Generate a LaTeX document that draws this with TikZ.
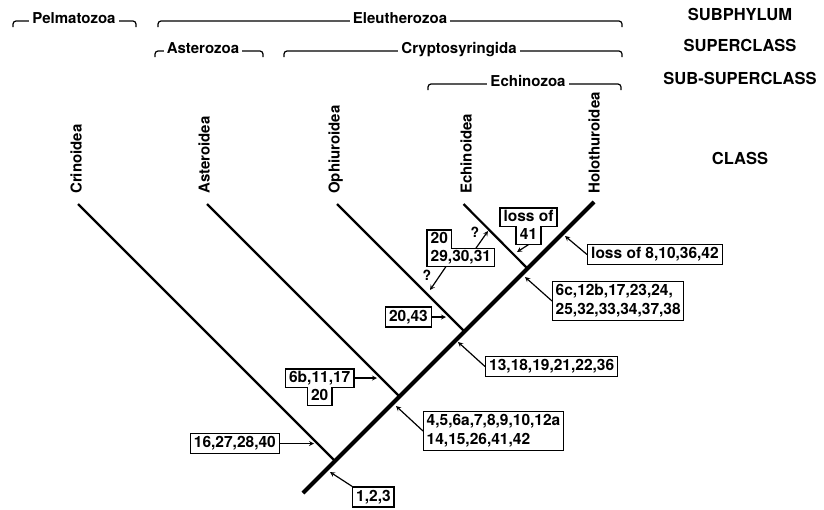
\documentclass[tikz,border=0pt]{standalone}
\usepackage{fontspec}
\setmainfont{TeX Gyre Heros}
\usetikzlibrary{positioning}

\tikzset{
  rank/.style={font=\bfseries\fontsize{16.5}{19}\selectfont, inner sep=0pt},
  taxon/.style={font=\bfseries\fontsize{15}{18}\selectfont, fill=white, inner xsep=3pt, inner ysep=2pt},
  bracket/.style={line width=1.2pt, rounded corners=3pt},
  cls/.style={font=\bfseries\fontsize{15}{18}\selectfont, rotate=90, anchor=base west, inner sep=0pt},
  trunk/.style={line width=4pt},
  branch/.style={line width=2.2pt},
  chr/.style={draw, line width=1.4pt, font=\bfseries\fontsize{15.5}{19}\selectfont, inner xsep=3.5pt, inner ysep=3pt, text height=11pt, text depth=3pt},
  chrtwo/.style={draw, line width=1.4pt, font=\bfseries\fontsize{15.5}{19}\selectfont, align=left, inner xsep=3pt, inner ysep=3pt},
  part/.style={font=\bfseries\fontsize{15.5}{19}\selectfont, inner xsep=3.5pt, inner ysep=2pt, text height=11pt, text depth=3pt},
  outline/.style={line width=1.4pt},
  query/.style={font=\bfseries\fontsize{14}{16}\selectfont, inner sep=0pt},
  ptr/.style={->, >=stealth, line width=1.2pt}
}

\begin{document}
\begin{tikzpicture}[x=1pt, y=-1pt]
\useasboundingbox (0,0) rectangle (824,509);

% rank column
\node[rank, anchor=base] (subphylum) at (740,20) {SUBPHYLUM};
\node[rank, anchor=base] (superclass) at (740,51) {SUPERCLASS};
\node[rank, anchor=base] (subsuperclass) at (740,84) {SUB-SUPERCLASS};
\node[rank, anchor=base] (class) at (740,164) {CLASS};

% brackets
\draw[bracket] (13,27) -- (13,21) -- (136,21) -- (136,27);
\node[taxon, anchor=base] (pelmatozoa) at (74,23) {Pelmatozoa};
\draw[bracket] (158,27) -- (158,21) -- (622,21) -- (622,27);
\node[taxon, anchor=base] (eleutherozoa) at (400,23) {Eleutherozoa};
\draw[bracket] (155,57) -- (155,51) -- (263,51) -- (263,57);
\node[taxon, anchor=base] (asterozoa) at (203,53) {Asterozoa};
\draw[bracket] (284,57) -- (284,51) -- (622,51) -- (622,57);
\node[taxon, anchor=base] (cryptosyringida) at (459,53) {Cryptosyringida};
\draw[bracket] (428,90) -- (428,84) -- (621,84) -- (621,90);
\node[taxon, anchor=base] (echinozoa) at (528,86) {Echinozoa};

% tree
\coordinate (root) at (303,493);
\coordinate (jCri) at (335,461);
\coordinate (jAst) at (399.5,396.5);
\coordinate (jOph) at (464.5,331.5);
\coordinate (jEch) at (527.5,268.5);
\coordinate (tHol) at (594,202);
\coordinate (tCri) at (78,204);
\coordinate (tAst) at (207,204);
\coordinate (tOph) at (337,204);
\coordinate (tEch) at (463.5,204);

\draw[trunk] (root) -- (tHol);
\draw[branch] (tCri) -- (jCri);
\draw[branch] (tAst) -- (jAst);
\draw[branch] (tOph) -- (jOph);
\draw[branch] (tEch) -- (jEch);

\node[cls] (crinoidea) at (81.5,194) {Crinoidea};
\node[cls] (asteroidea) at (209.5,194) {Asteroidea};
\node[cls] (ophiuroidea) at (339.5,194) {Ophiuroidea};
\node[cls] (echinoidea) at (471.5,194) {Echinoidea};
\node[cls] (holothuroidea) at (599.5,194) {Holothuroidea};

% character boxes
\node[chr, anchor=west] (c123) at (352,497) {1,2,3};
\node[chr, anchor=east] (c16) at (280,443.5) {16,27,28,40};
\node[part, anchor=east] (c6b) at (354,378) {6b,11,17};
\node[part, below=0pt of c6b] (c6bx) {20};
\node[chrtwo, anchor=west] (c4) at (423,431) {4,5,6a,7,8,9,10,12a\\14,15,26,41,42};
\node[chr, anchor=west] (c13) at (485,366.5) {13,18,19,21,22,36};
\node[chr, anchor=east] (c20) at (432,317) {20,43};
\node[part, anchor=west] (c29) at (427,257.5) {29,30,31};
\node[part, anchor=south west] (c29x) at (c29.north west) {20};
\node[part] (closs) at (528.5,217) {loss of};
\node[part, below=0pt of closs] (clossx) {41};
\node[chr, anchor=west] (closs8) at (587,254.5) {loss of 8,10,36,42};
\node[chrtwo, anchor=west] (c6c) at (552,301) {6c,12b,17,23,24,\\25,32,33,34,37,38};

\draw[outline] (c6b.north west) -- (c6b.north east) -- (c6b.south east) -- (c6bx.north east) -- (c6bx.south east) -- (c6bx.south west) -- (c6bx.north west) -- (c6b.south west) -- cycle;
\draw[outline] (c29x.north west) -- (c29x.north east) -- (c29x.south east) -- (c29.north east) -- (c29.south east) -- (c29.south west) -- cycle;
\draw[outline] (closs.north west) -- (closs.north east) -- (closs.south east) -- (clossx.north east) -- (clossx.south east) -- (clossx.south west) -- (clossx.north west) -- (closs.south west) -- cycle;

% pointers
\coordinate (p123) at (330,472);
\coordinate (p16) at (314,443.5);
\coordinate (p6b) at (377,378);
\coordinate (p4) at (396,406);
\coordinate (p13) at (458,342);
\coordinate (p20) at (446,317);
\coordinate (p29a) at (488,231);
\coordinate (p29b) at (430,290);
\coordinate (ploss) at (517,252);
\coordinate (ploss8) at (565,236);
\coordinate (p6c) at (525,277);

\draw[ptr] (c123.north west) -- (p123);
\draw[ptr] (c16.east) -- (p16);
\draw[ptr] (c6b.east) -- (p6b);
\draw[ptr] (c4.west) -- (p4);
\draw[ptr] (c13.west) -- (p13);
\draw[ptr] (c20.east) -- (p20);
\draw[ptr] ([xshift=15pt]c29.north) -- (p29a);
\draw[ptr] ([xshift=-15pt]c29.south) -- (p29b);
\draw[ptr] (clossx.south) -- (ploss);
\draw[ptr] (closs8.west) -- (ploss8);
\draw[ptr] (c6c.west) -- (p6c);

\node[query] (q1) at (475,232) {?};
\node[query] (q2) at (427,275) {?};
\end{tikzpicture}
\end{document}
